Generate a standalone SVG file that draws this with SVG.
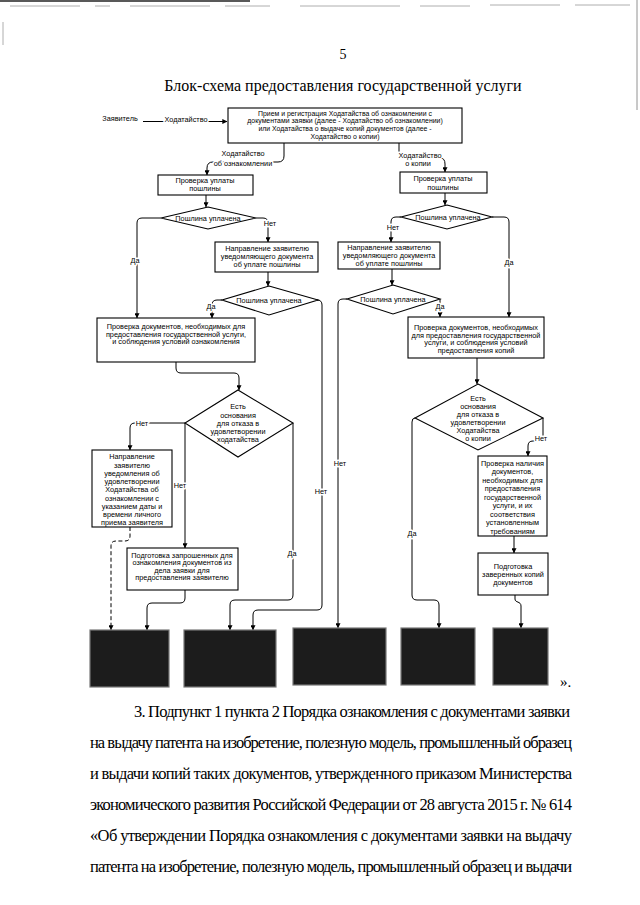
<svg xmlns="http://www.w3.org/2000/svg" width="640" height="905" viewBox="0 0 640 905">
<defs>
<marker id="ar" viewBox="0 0 8 8" refX="7.5" refY="4" markerWidth="5" markerHeight="5" orient="auto" markerUnits="userSpaceOnUse">
<path d="M0,0 L8,4 L0,8 z" fill="#000"/>
</marker>
<style>
.t{font-family:"Liberation Sans",Arial,sans-serif;font-size:7.3px;fill:#000;text-anchor:middle}
.tt{font-family:"Liberation Sans",Arial,sans-serif;font-size:6.9px;fill:#000;text-anchor:middle}
.lbl{font-family:"Liberation Sans",Arial,sans-serif;font-size:7.3px;fill:#000;text-anchor:middle;stroke:#fff;stroke-width:3;paint-order:stroke;stroke-linejoin:round}
.b{fill:#fff;stroke:#000;stroke-width:1.1}
.d{fill:#1c1c1c;stroke:#777;stroke-width:1.2}
.c{fill:none;stroke:#000;stroke-width:1}
.s{font-family:"Liberation Serif","Times New Roman",serif;fill:#000}
</style>
</defs>
<rect width="640" height="905" fill="#fff"/>
<!-- scan artifacts -->
<g stroke="#999" stroke-width="0.8" fill="none">
<path d="M0,1 H250" stroke="#222" stroke-width="1.5"/>
<path d="M10,6 H80 M95,6 H110 M130,6 H210 M225,6 H270 M300,6 H400 M420,6 H470 M490,5 H560 M575,5 H630"/>
<path d="M637,0 V110" stroke="#777"/>
<path d="M3,22 V45"/>
</g>
<text class="s" x="343" y="59" font-size="14" text-anchor="middle">5</text>
<text class="s" x="343" y="91" font-size="16" text-anchor="middle">Блок-схема предоставления государственной услуги</text>

<g id="connectors">
<path class="c" d="M143,121.5 H227" marker-end="url(#ar)"/>
<path class="c" d="M284,143 V156 Q284,162 278,162 H213 Q207,162 207,168 V175" marker-end="url(#ar)"/>
<path class="c" d="M399,143 V152 Q399,158 405,158 H440 Q445,158 445,164 V172" marker-end="url(#ar)"/>
<path class="c" d="M206,195 V207" marker-end="url(#ar)"/>
<path class="c" d="M445,193 V205" marker-end="url(#ar)"/>
<path class="c" d="M161,218 H142 Q137,218 137,223 V318" marker-end="url(#ar)"/>
<path class="c" d="M256,218 H263 Q268,218 268,223 V242" marker-end="url(#ar)"/>
<path class="c" d="M268,272 V286" marker-end="url(#ar)"/>
<path class="c" d="M222,300 H217 Q212,300 212,305 V318" marker-end="url(#ar)"/>
<path class="c" d="M318,300 H317 Q322,300 322,305 V605 Q322,610 317,610 H258 Q253,610 253,615 V630" marker-end="url(#ar)"/>
<path class="c" d="M176,362 V368 Q176,373 181,373 H234 Q239,373 239,378 V390" marker-end="url(#ar)"/>
<path class="c" d="M185,423 H135 Q130,423 130,428 V450" marker-end="url(#ar)"/>
<path class="c" d="M185,423 V548" marker-end="url(#ar)"/>
<path class="c" d="M293,423 V595 Q293,600 288,600 H235 Q230,600 230,605 V630" marker-end="url(#ar)"/>
<path class="c" d="M130,527 V536 Q130,541 125,541 H116 Q111,541 111,546 V630" stroke-dasharray="4,2.5" marker-end="url(#ar)"/>
<path class="c" d="M185,590 V598 Q185,603 180,603 H152 Q147,603 147,608 V630" marker-end="url(#ar)"/>
<path class="c" d="M401,217 H396 Q391,217 391,222 V242" marker-end="url(#ar)"/>
<path class="c" d="M492,217 H504 Q509,217 509,222 V317" marker-end="url(#ar)"/>
<path class="c" d="M392,269 V285" marker-end="url(#ar)"/>
<path class="c" d="M347,299 H343 Q338,299 338,304 V628" marker-end="url(#ar)"/>
<path class="c" d="M440,299 V317" marker-end="url(#ar)"/>
<path class="c" d="M477,358 V384" marker-end="url(#ar)"/>
<path class="c" d="M415,418 Q412,418 412,422 V595 Q412,600 417,600 H434 Q439,600 439,605 V628" marker-end="url(#ar)"/>
<path class="c" d="M543,418 V441 H533 Q528,441 528,446 V456" marker-end="url(#ar)"/>
<path class="c" d="M514,536 V553" marker-end="url(#ar)"/>
<path class="c" d="M515,595 V599 C515,603 521,601 521,606 V628" marker-end="url(#ar)"/>
</g>

<g id="labels">
<text class="t" x="120" y="120.5">Заявитель</text>
<text class="lbl" x="186" y="121.5">Ходатайство</text>
<text class="lbl" x="243" y="156">Ходатайство</text>
<text class="lbl" x="243" y="165.5">об ознакомлении</text>
<text class="lbl" x="420" y="157.5">Ходатайство</text>
<text class="lbl" x="418" y="165.5">о копии</text>
<text class="lbl" x="135" y="262.5">Да</text>
<text class="lbl" x="270" y="226">Нет</text>
<text class="lbl" x="211" y="308.5">Да</text>
<text class="lbl" x="321" y="494">Нет</text>
<text class="lbl" x="142" y="425.5">Нет</text>
<text class="lbl" x="180" y="487.5">Нет</text>
<text class="lbl" x="292" y="555.5">Да</text>
<text class="lbl" x="393" y="229.5">Нет</text>
<text class="lbl" x="509" y="264.5">Да</text>
<text class="lbl" x="340" y="466">Нет</text>
<text class="lbl" x="440" y="309">Да</text>
<text class="lbl" x="412" y="535.5">Да</text>
<text class="lbl" x="541" y="440.5">Нет</text>
</g>

<g id="n-start">
<rect class="b" x="228" y="108" width="234" height="35"/>
<text class="tt" x="345" y="115.5">Прием и регистрация Ходатайства об ознакомлении с</text>
<text class="tt" x="345" y="123.2">документами заявки (далее - Ходатайство об ознакомлении)</text>
<text class="tt" x="345" y="130.9">или  Ходатайства о выдаче копий документов (далее -</text>
<text class="tt" x="345" y="138.6">Ходатайство о копии)</text>
</g>

<g id="n-fee-l">
<rect class="b" x="158" y="175" width="95" height="20"/>
<text class="t" x="205" y="182.5">Проверка уплаты</text>
<text class="t" x="205" y="190.5">пошлины</text>
</g>
<g id="n-fee-r">
<rect class="b" x="400" y="172" width="87" height="21"/>
<text class="t" x="443" y="180.5">Проверка уплаты</text>
<text class="t" x="443" y="189.5">пошлины</text>
</g>

<g id="n-paid-l1">
<polygon class="b" points="208,207 256,218 208,229 161,218"/>
<text class="t" x="208" y="220.5">Пошлина уплачена</text>
</g>
<g id="n-paid-r1">
<polygon class="b" points="447,205 492,217 447,229 401,217"/>
<text class="t" x="448" y="219.5">Пошлина уплачена</text>
</g>

<g id="n-notice-l">
<rect class="b" x="215" y="242" width="103" height="30"/>
<text class="t" x="267" y="250.5">Направление заявителю</text>
<text class="t" x="267" y="258.5">уведомляющего документа</text>
<text class="t" x="267" y="266.5">об уплате пошлины</text>
</g>
<g id="n-notice-r">
<rect class="b" x="338" y="242" width="102" height="27"/>
<text class="t" x="389" y="250.2">Направление заявителю</text>
<text class="t" x="389" y="258.2">уведомляющего документа</text>
<text class="t" x="389" y="265.8">об уплате пошлины</text>
</g>

<g id="n-paid-l2">
<polygon class="b" points="269,286 318,300 269,315 222,300"/>
<text class="t" x="269" y="302.5">Пошлина уплачена</text>
</g>
<g id="n-paid-r2">
<polygon class="b" points="393,285 440,299 393,314 347,299"/>
<text class="t" x="393" y="301.5">Пошлина уплачена</text>
</g>

<g id="n-check-l">
<rect class="b" x="97" y="318" width="158" height="44"/>
<text class="t" x="176" y="329">Проверка документов, необходимых для</text>
<text class="t" x="176" y="336.7">предоставления государственной услуги,</text>
<text class="t" x="176" y="344.3">и соблюдения условий ознакомления</text>
</g>
<g id="n-check-r">
<rect class="b" x="408" y="317" width="136" height="41"/>
<text class="t" x="476" y="329.8">Проверка документов, необходимых</text>
<text class="t" x="476" y="337.5">для предоставления государственной</text>
<text class="t" x="476" y="344.8">услуги, и соблюдения условий</text>
<text class="t" x="476" y="352.5">предоставления копий</text>
</g>

<g id="n-refuse-l">
<polygon class="b" points="238,390 293,423 238,457 185,423"/>
<text class="t" x="238" y="408.5">Есть</text>
<text class="t" x="238" y="417.5">основания</text>
<text class="t" x="238" y="425.8">для отказа в</text>
<text class="t" x="238" y="434.2">удовлетворении</text>
<text class="t" x="238" y="441.8">ходатайства</text>
</g>
<g id="n-refuse-r">
<polygon class="b" points="478,384 543,418 478,450 415,418"/>
<text class="t" x="478" y="400.8">Есть</text>
<text class="t" x="478" y="408.5">основания</text>
<text class="t" x="478" y="416.5">для отказа в</text>
<text class="t" x="478" y="424.8">удовлетворении</text>
<text class="t" x="478" y="433.2">Ходатайства</text>
<text class="t" x="478" y="440.8">о копии</text>
</g>

<g id="n-inform">
<rect class="b" x="92" y="450" width="80" height="77"/>
<text class="t" x="132" y="459.2">Направление</text>
<text class="t" x="132" y="467.5">заявителю</text>
<text class="t" x="132" y="475.7">уведомления об</text>
<text class="t" x="132" y="484">удовлетворении</text>
<text class="t" x="132" y="492.2">Ходатайства об</text>
<text class="t" x="132" y="500.5">ознакомлении с</text>
<text class="t" x="132" y="508.7">указанием даты и</text>
<text class="t" x="132" y="517">времени личного</text>
<text class="t" x="132" y="525.2">приема заявителя</text>
</g>

<g id="n-prepare-l">
<rect class="b" x="127" y="548" width="111" height="42"/>
<text class="t" x="182" y="557.5">Подготовка запрошенных для</text>
<text class="t" x="182" y="565">ознакомления документов из</text>
<text class="t" x="182" y="572.5">дела заявки для</text>
<text class="t" x="182" y="580">предоставления заявителю</text>
</g>

<g id="n-verify-r">
<rect class="b" x="478" y="456" width="69" height="80"/>
<text class="t" x="512.5" y="465.8">Проверка наличия</text>
<text class="t" x="512.5" y="474.3">документов,</text>
<text class="t" x="512.5" y="482.7">необходимых для</text>
<text class="t" x="512.5" y="491.2">предоставления</text>
<text class="t" x="512.5" y="499.7">государственной</text>
<text class="t" x="512.5" y="508.2">услуги,  и их</text>
<text class="t" x="512.5" y="516.6">соответствия</text>
<text class="t" x="512.5" y="525.1">установленным</text>
<text class="t" x="512.5" y="533.6">требованиям</text>
</g>

<g id="n-copies-r">
<rect class="b" x="478" y="553" width="70" height="42"/>
<text class="t" x="513" y="568.5">Подготовка</text>
<text class="t" x="513" y="576.5">заверенных копий</text>
<text class="t" x="513" y="585">документов</text>
</g>

<g id="n-end1"><rect class="d" x="90" y="630" width="79" height="57"/></g>
<g id="n-end2"><rect class="d" x="184" y="630" width="92" height="57"/></g>
<g id="n-end3"><rect class="d" x="293" y="628" width="93" height="57"/></g>
<g id="n-end4"><rect class="d" x="401" y="628" width="74" height="57"/></g>
<g id="n-end5"><rect class="d" x="493" y="628" width="55" height="57"/></g>

<text class="s" x="560" y="687" font-size="15">».</text>

<g class="s" font-size="16.5">
<text x="134" y="717" textLength="436" lengthAdjust="spacing">3. Подпункт 1 пункта 2 Порядка ознакомления с документами заявки</text>
<text x="90" y="748" textLength="482" lengthAdjust="spacing">на выдачу патента на изобретение, полезную модель, промышленный образец</text>
<text x="90" y="779" textLength="482" lengthAdjust="spacing">и выдачи копий таких документов, утвержденного приказом Министерства</text>
<text x="90" y="810" textLength="482" lengthAdjust="spacing">экономического развития Российской Федерации от 28 августа 2015 г. № 614</text>
<text x="90" y="841" textLength="482" lengthAdjust="spacing">«Об утверждении Порядка ознакомления с документами заявки на выдачу</text>
<text x="90" y="872" textLength="482" lengthAdjust="spacing">патента на изобретение, полезную модель, промышленный образец и выдачи</text>
</g>
</svg>
